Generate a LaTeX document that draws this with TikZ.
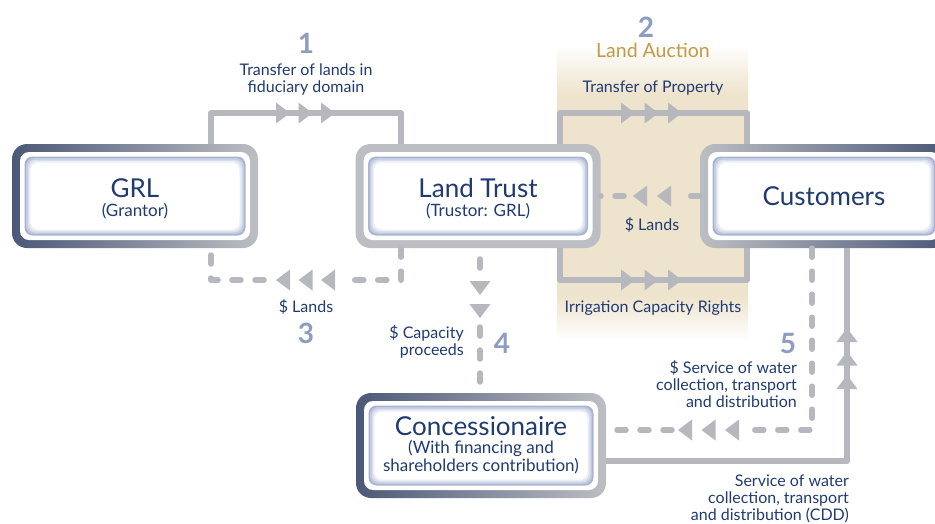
\documentclass[tikz,border=0pt]{standalone}
\usepackage{fontspec}
\setmainfont{Lato}
\usetikzlibrary{calc}
\definecolor{navy}{HTML}{1F3B70}
\definecolor{numcol}{HTML}{8D9DC2}
\definecolor{gold}{HTML}{C29A48}
\definecolor{conncol}{HTML}{B6B8BD}
\definecolor{beige}{HTML}{EEE3CC}
\definecolor{frdk}{HTML}{4B5877}
\definecolor{frlt}{HTML}{BCBEC3}
\definecolor{gA}{HTML}{A9B4D3}
\definecolor{gB}{HTML}{C2CAE1}
\definecolor{gC}{HTML}{D9DEEC}
\definecolor{gD}{HTML}{ECEFF6}
\tikzset{
  bigbox/.style={shape=rectangle, rounded corners=15pt, inner sep=0pt, text=navy, align=center,
    path picture={
      \fill[white, rounded corners=9pt] ([shift={(8pt,-8pt)}]path picture bounding box.north west) rectangle ([shift={(-8pt,8pt)}]path picture bounding box.south east);
      \foreach \i/\c in {12.5/gA,14/gB,15.5/gC,17/gD,18.5/white}{
        \fill[\c, rounded corners=8pt] ([shift={(\i pt,-\i pt)}]path picture bounding box.north west) rectangle ([shift={(-\i pt,\i pt)}]path picture bounding box.south east);
      }
    }},
  conn/.style={draw=conncol, line width=5.5pt, line join=round},
  dconn/.style={conn, line cap=round, dash pattern=on 9pt off 14pt},
  lbl/.style={text=navy, font=\fontsize{16}{17}\selectfont, inner sep=0pt},
  num/.style={text=numcol, font=\fontsize{28}{28}\selectfont\bfseries, inner sep=0pt},
  tri/.pic={\fill[conncol] (-14pt,-10.5pt) -- (0pt,0pt) -- (-14pt,10.5pt) -- cycle;}
}
\newcommand{\titlef}{\fontsize{26}{28}\selectfont}
\newcommand{\subf}{\fontsize{17}{19}\selectfont}
\begin{document}
\begin{tikzpicture}[x=1pt,y=-1pt]
\useasboundingbox (0,0) rectangle (935,523);
\clip (0,0) rectangle (935,523);
% beige band
\fill[beige] (557,94) rectangle (748,296);
\shade[top color=white, bottom color=beige] (557,45) rectangle (748,94.5);
\shade[top color=beige, bottom color=white] (557,295.5) rectangle (748,340);

% boxes
\node[bigbox, font=\fontsize{17}{19}\selectfont, left color=frdk, right color=frlt, minimum width=246pt, minimum height=104pt] (grl) at (135,196)
  {\rule{0pt}{24.5pt}\titlef GRL\\\subf (Grantor)};
\node[bigbox, font=\fontsize{17}{19}\selectfont, left color=frlt, middle color=frdk!85!frlt, right color=frlt, minimum width=245pt, minimum height=104pt] (lt) at (478,196)
  {\rule{0pt}{24.5pt}\titlef Land Trust\\\subf (Trustor: GRL)};
\node[bigbox, left color=frlt, right color=frdk, minimum width=248pt, minimum height=104pt] (cu) at (824,196)
  {\titlef Customers};
\node[bigbox, font=\fontsize{17}{17.5}\selectfont, left color=frdk, right color=frlt, minimum width=250pt, minimum height=105pt] (co) at (481,445.5)
  {\titlef Concessionaire\\[0.5pt]\subf (With financing and\\\subf shareholders contribution)};

% coordinates
\coordinate (k1) at (211,113);
\coordinate (k2) at (401,113);
\coordinate (k3) at (211,280);
\coordinate (k4) at (401,280);
\coordinate (c3a) at (346,280);
\coordinate (c3b) at (264,280);
\coordinate (k7) at (560,113);
\coordinate (k8) at (747,113);
\coordinate (k9) at (560,280);
\coordinate (k10) at (747,280);
\coordinate (m1) at (677,196);
\coordinate (m2) at (624,196);
\coordinate (c4a) at (480,268);
\coordinate (c4b) at (480,327);
\coordinate (k5) at (812,430);
\coordinate (c5a) at (742,430);
\coordinate (c5b) at (672,430);
\coordinate (k6) at (847,461);

% connectors
\draw[conn] (grl.north -| k1) -- (k1) -- (k2) -- (lt.north -| k2);
\draw[conn] (lt.north -| k7) -- (k7) -- (k8) -- (cu.north -| k8);
\draw[conn] (lt.south -| k9) -- (k9) -- (k10) -- (cu.south -| k10);
\draw[dconn] (cu.west) -- (m1);
\draw[dconn] (m2) -- (lt.east);
\draw[dconn] (lt.south -| k4) -- (k4) -- (c3a);
\draw[dconn] (c3b) -- (k3) -- (grl.south -| k3);
\draw[dconn] (c4a) -- (lt.south -| c4a);
\draw[dconn] (c4b) -- (co.north -| c4b);
\draw[dconn] (cu.south -| k5) -- (k5) -- (c5a);
\draw[dconn] (c5b) -- (co.east |- c5b);
\draw[conn] (co.east |- k6) -- (k6) -- (cu.south -| k6);

% arrowheads
\foreach \x in {290,312.5,335} \pic at (\x,113) {tri};
\foreach \x in {635,658.5,682} {\pic at (\x,113) {tri}; \pic at (\x,280) {tri};}
\foreach \x in {633,657} \pic[rotate=180] at (\x,196) {tri};
\foreach \x in {276,298.5,321} \pic[rotate=180] at (\x,280) {tri};
\foreach \y in {295,318} \pic[rotate=-90] at (480,\y) {tri};
\foreach \x in {678,701.5,725} \pic[rotate=180] at (\x,430) {tri};
\foreach \y in {328,351.5,375} \pic[rotate=90] at (847,\y) {tri};

% labels
\node[num] (n1) at (306,43) {1};
\node[lbl, align=center, anchor=base] (t1) at (306,92) {Transfer of lands in\\fiduciary domain};
\node[num] (n2) at (646,27) {2};
\node[text=gold, font=\fontsize{19.5}{20}\selectfont, inner sep=0pt, anchor=base] (la) at (653,57) {Land Auction};
\node[lbl, anchor=base] (tp) at (653,92) {Transfer of Property};
\node[lbl, anchor=base] (l2) at (652,230) {\$ Lands};
\node[lbl, anchor=base] (ir) at (653,312) {Irrigation Capacity Rights};
\node[lbl, anchor=base] (l3) at (306,312) {\$ Lands};
\node[num] (n3) at (306,333) {3};
\node[lbl, align=right, anchor=base east] (cp) at (464,355) {\$ Capacity\\proceeds};
\node[num] (n4) at (502,343) {4};
\node[num] (n5) at (788,343) {5};
\node[lbl, align=right, anchor=base east] (s5) at (797,407) {\$ Service of water\\collection, transport\\and distribution};
\node[lbl, align=right, anchor=base east] (s6) at (849,520) {Service of water\\collection, transport\\and distribution (CDD)};
\end{tikzpicture}
\end{document}
